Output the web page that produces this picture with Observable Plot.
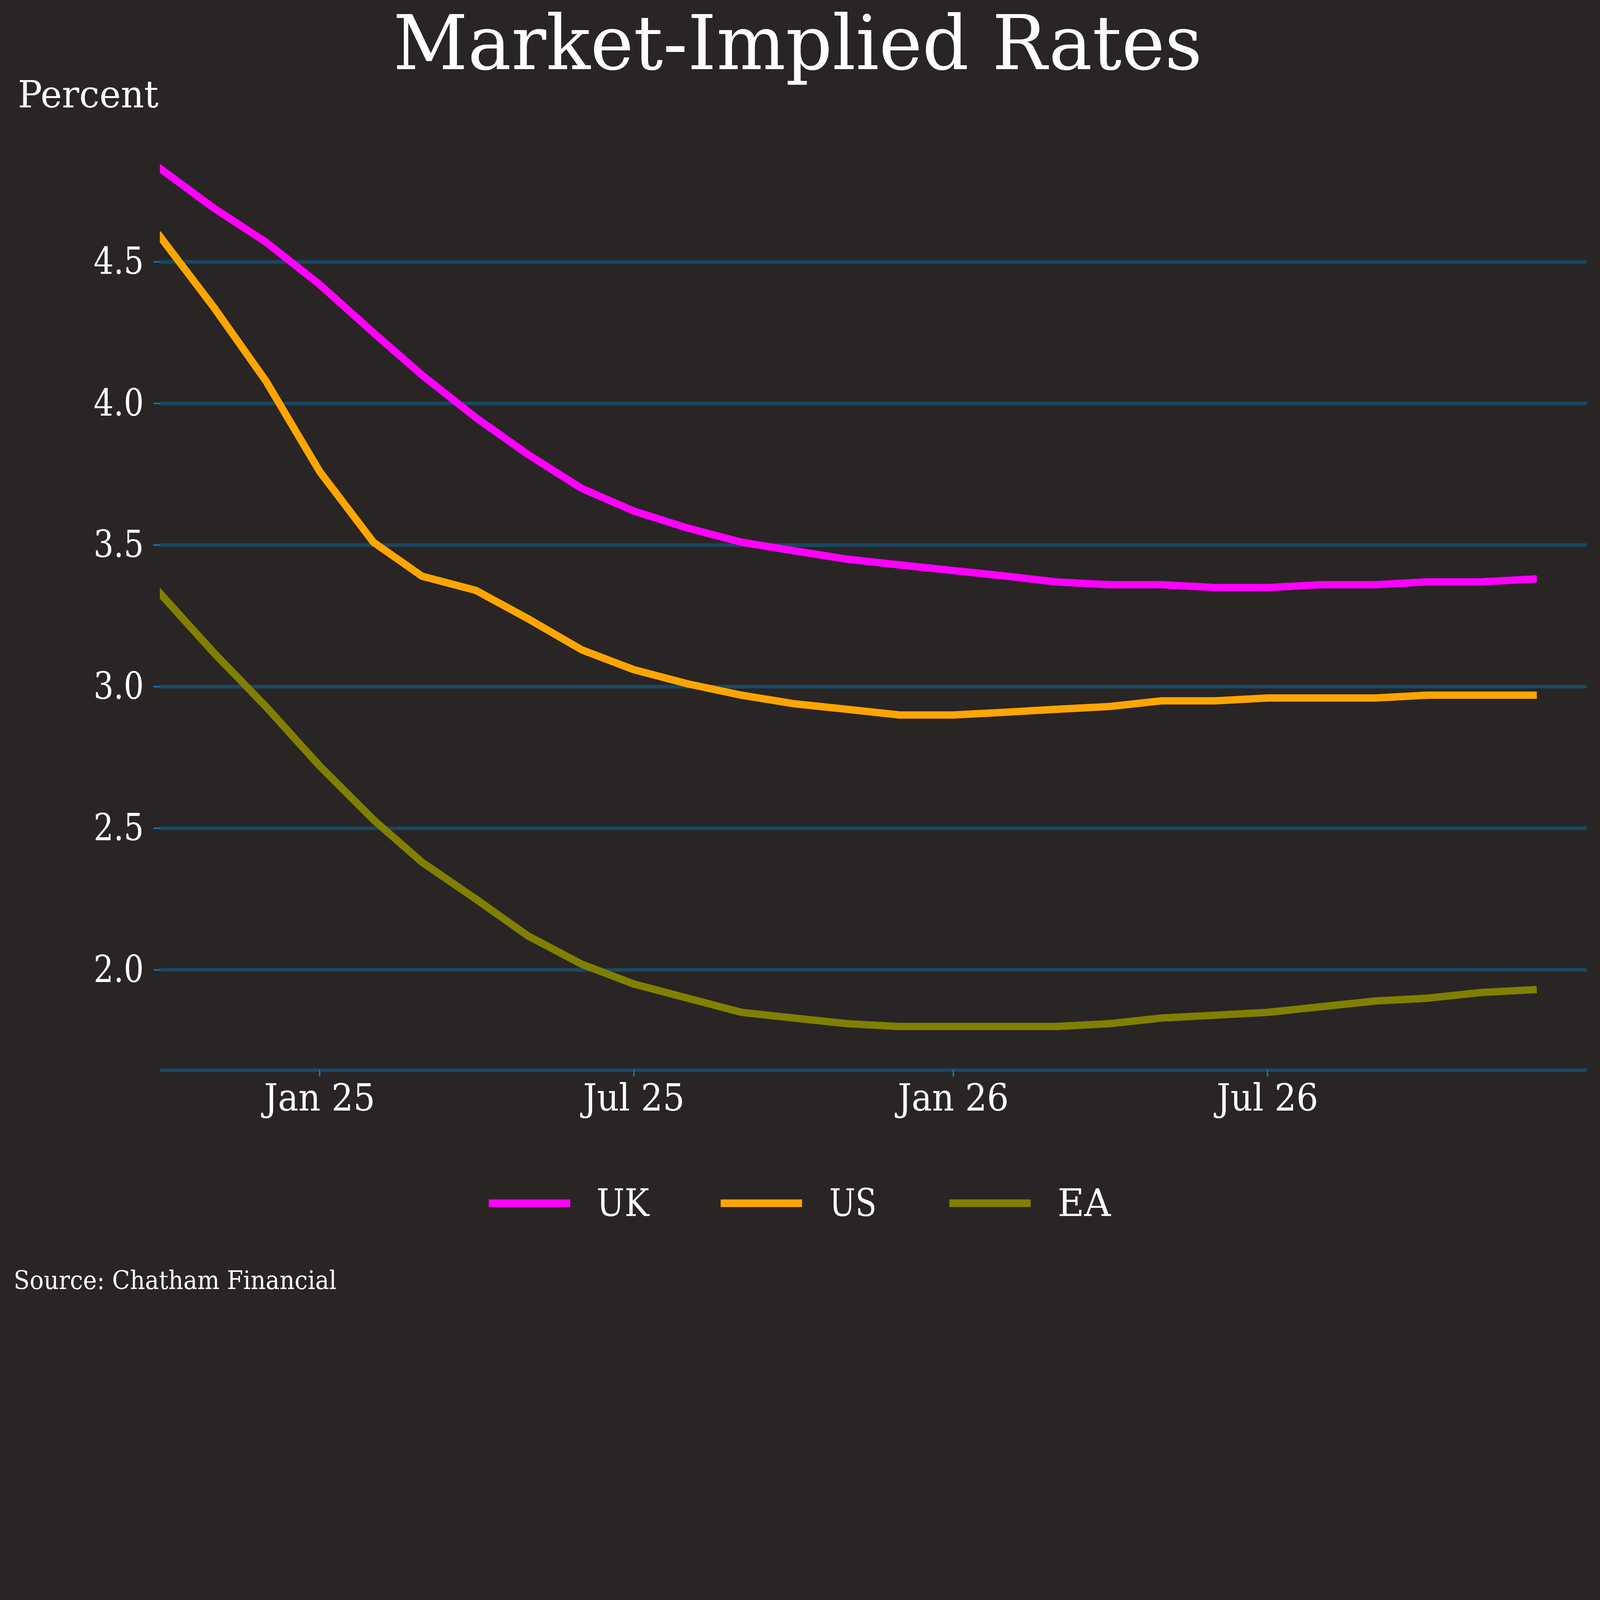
<!DOCTYPE html>
<html>
<head>
<meta charset="utf-8">
<script src="https://cdn.jsdelivr.net/npm/d3@7"></script>
<script src="https://cdn.jsdelivr.net/npm/@observablehq/plot@0.6"></script>
<style>
  html, body { margin: 0; padding: 0; background: #292524; overflow: hidden; }
  #stage { position: absolute; left: 0; top: 0; width: 7158px; height: 5851px; transform-origin: 0 0; background: #292524; font-family: "DejaVu Serif", serif; color: #ffffff; overflow: hidden; }
  .txt { position: absolute; white-space: nowrap; line-height: 1; display: inline-block; }
  .sw { position: absolute; }
  #chart { position: absolute; left: 0; top: 500px; }
</style>
</head>
<body>
<div id="stage">
<div id="title" class="txt">Market-Implied Rates</div>
<div id="ylab" class="txt">Percent</div>
<div id="chart"></div>
<div id="legend"></div>
<div id="source" class="txt">Source: Chatham Financial</div>
</div>
<script>
// ---- data ----
const seriesNames = ["UK", "US", "EA"];
const seriesColors = ["#ff00ff", "#ffa500", "#808000"];
const months = [
  "2024-10-01","2024-11-01","2024-12-01",
  "2025-01-01","2025-02-01","2025-03-01","2025-04-01","2025-05-01","2025-06-01",
  "2025-07-01","2025-08-01","2025-09-01","2025-10-01","2025-11-01","2025-12-01",
  "2026-01-01","2026-02-01","2026-03-01","2026-04-01","2026-05-01","2026-06-01",
  "2026-07-01","2026-08-01","2026-09-01","2026-10-01","2026-11-01","2026-12-01"
];
const ukValues = [4.83,4.69,4.57,4.42,4.25,4.10,3.95,3.82,3.70,3.62,3.56,3.51,3.48,3.45,3.43,3.41,3.39,3.37,3.36,3.36,3.35,3.35,3.36,3.36,3.37,3.37,3.38];
const usValues = [4.59,4.34,4.08,3.76,3.51,3.39,3.34,3.24,3.13,3.06,3.01,2.97,2.94,2.92,2.90,2.90,2.91,2.92,2.93,2.95,2.95,2.96,2.96,2.96,2.97,2.97,2.97];
const eaValues = [3.33,3.12,2.93,2.72,2.53,2.38,2.25,2.12,2.02,1.95,1.90,1.85,1.83,1.81,1.80,1.80,1.80,1.80,1.81,1.83,1.84,1.85,1.87,1.89,1.90,1.92,1.93];
const yTicks = [2.0, 2.5, 3.0, 3.5, 4.0, 4.5];
const yDomain = [1.646, 4.98];
const xTickDates = ["2025-01-01","2025-07-01","2026-01-01","2026-07-01"];
const xDomain = ["2024-10-01","2027-01-01"];

const valuesBySeries = {UK: ukValues, US: usValues, EA: eaValues};
const data = [];
for (const s of seriesNames) {
  months.forEach((m, i) => data.push({date: new Date(m), series: s, value: valuesBySeries[s][i]}));
}

const gridColor = "#1b4762";
const tickColor = "#0f7dd0";
const fmtMonth = d3.utcFormat("%b %y");

const chart = Plot.plot({
  width: 7158,
  height: 4587,
  marginLeft: 715,
  marginRight: 59,
  marginTop: 63,
  marginBottom: 300,
  style: {background: "transparent", color: "#ffffff", fontFamily: "DejaVu Serif", fontSize: "168px", overflow: "visible"},
  x: {type: "utc", domain: xDomain.map(d => new Date(d))},
  y: {domain: yDomain},
  color: {domain: seriesNames, range: seriesColors},
  marks: [
    Plot.gridY(yTicks, {stroke: gridColor, strokeOpacity: 1, strokeWidth: 16}),
    Plot.ruleY([yDomain[0]], {stroke: gridColor, strokeWidth: 16}),
    Plot.axisY(yTicks, {tickFormat: d3.format(".1f"), tickSize: 29, tickPadding: 43, stroke: tickColor, strokeWidth: 6, fill: "#ffffff", label: null}),
    Plot.axisX(xTickDates.map(d => new Date(d)), {tickFormat: fmtMonth, tickSize: 29, tickPadding: 33, stroke: tickColor, strokeWidth: 6, fill: "#ffffff", label: null}),
    Plot.line(data, {x: "date", y: "value", z: "series", stroke: "series", strokeWidth: 33, strokeLinecap: "square", strokeLinejoin: "round", clip: true})
  ]
});
document.getElementById("chart").appendChild(chart);

// narrow tick labels to approximate the reference slab-serif widths
function narrowLabels(sel, sample, targetWidth) {
  const texts = Array.from(chart.querySelectorAll(sel));
  if (!texts.length) return;
  const ref = texts.find(t => t.textContent === sample) || texts[0];
  const w = ref.getComputedTextLength();
  if (!w) return;
  const r = targetWidth / w;
  texts.forEach(t => {
    const tw = t.getComputedTextLength();
    t.setAttribute("textLength", (tw * r).toFixed(1));
    t.setAttribute("lengthAdjust", "spacingAndGlyphs");
  });
}
narrowLabels('g[aria-label="y-axis tick label"] text', "4.5", 225);
narrowLabels('g[aria-label="x-axis tick label"] text', "Jan 25", 497);

// ---- html texts ----
const BASE = 0.846; // baseline offset (em) for DejaVu Serif with line-height 1
function place(el, fs, left, baseline, targetWidth, anchor) {
  el.style.fontSize = fs + "px";
  el.style.top = (baseline - BASE * fs) + "px";
  const w = el.offsetWidth;
  const r = targetWidth && w ? targetWidth / w : 1;
  if (anchor === "middle") {
    el.style.left = (left - w / 2) + "px";
    el.style.transformOrigin = "50% 50%";
  } else {
    el.style.left = left + "px";
    el.style.transformOrigin = "0 50%";
  }
  el.style.transform = "scaleX(" + r.toFixed(4) + ")";
}
place(document.getElementById("title"), 336, 3568, 310, 3620, "middle");
place(document.getElementById("ylab"), 168, 80, 480, 629);
place(document.getElementById("source"), 114, 61, 5767, 1445);

// legend
const legend = document.getElementById("legend");
const swatchX = [2187, 3224, 4247];
const labelX = [2669, 3710, 4731];
const labelW = [235, 212, 238];
seriesNames.forEach((s, i) => {
  const sw = document.createElement("div");
  sw.className = "sw";
  sw.style.left = swatchX[i] + "px";
  sw.style.top = "5366px";
  sw.style.width = "364px";
  sw.style.height = "34px";
  sw.style.background = seriesColors[i];
  legend.appendChild(sw);
  const t = document.createElement("div");
  t.className = "txt";
  t.textContent = s;
  legend.appendChild(t);
  place(t, 170, labelX[i], 5441, labelW[i]);
});

// fit the 7158x5851 stage into the viewport
function fitStage() {
  const s = Math.min(window.innerWidth / 7158, window.innerHeight / 5851);
  document.getElementById("stage").style.transform = "scale(" + s + ")";
}
fitStage();
window.addEventListener("resize", fitStage);
</script>
</body>
</html>
